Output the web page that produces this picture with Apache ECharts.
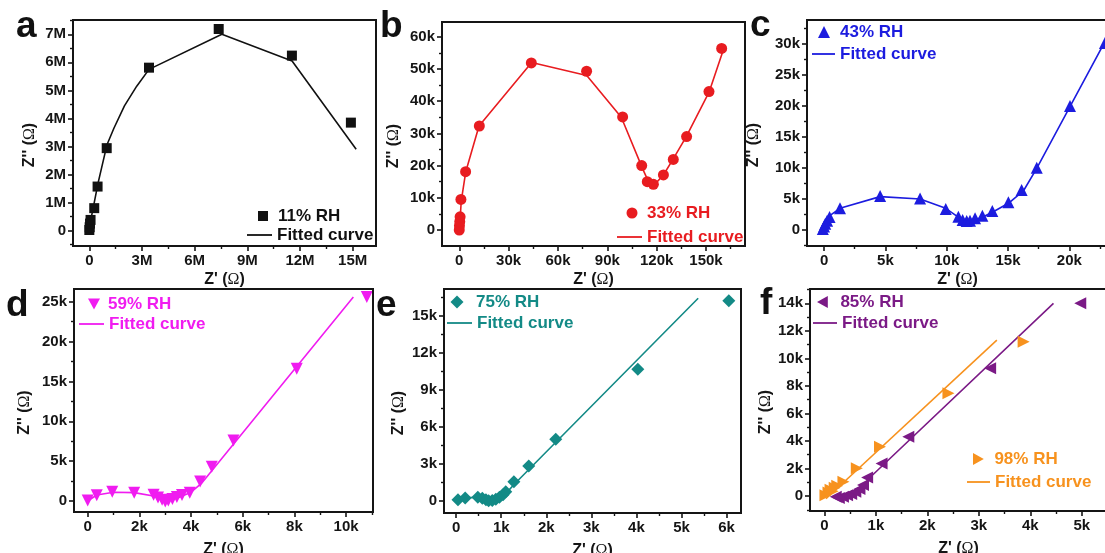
<!DOCTYPE html>
<html>
<head>
<meta charset="utf-8">
<script src="https://cdn.jsdelivr.net/npm/echarts@6/dist/echarts.min.js"></script>
<style>
  html, body { margin: 0; padding: 0; background: #fff; }
  #chart { width: 1105px; height: 553px; }
</style>
</head>
<body>
<div id="chart"></div>
<script>
// Complex impedance (Nyquist) plots of the sensor at six humidity levels.
// Z' is the real part, Z'' the imaginary part; values in MΩ (a) or kΩ (b–f).

// (a) 11% RH, MΩ
const rh11Re = [0.0, 0.02, 0.04, 0.07, 0.28, 0.47, 0.99, 3.40, 7.37, 11.54, 14.90];
const rh11Im = [0.02, 0.12, 0.25, 0.38, 0.80, 1.57, 2.94, 5.81, 7.19, 6.24, 3.85];
const rh11FitRe = [0.0, 0.12, 0.28, 0.5, 1.0, 1.4, 2.0, 2.7, 3.4, 7.55, 11.55, 15.2];
const rh11FitIm = [0.0, 0.5, 1.0, 1.7, 3.05, 3.65, 4.45, 5.15, 5.75, 7.0, 6.05, 2.9];

// (b) 33% RH, kΩ
const rh33Re = [0, 0.1, 0.3, 0.5, 1.0, 3.85, 12.2, 43.8, 77.4, 99.3, 110.9, 114.3, 118.0, 124.1, 130.1, 138.2, 151.8, 159.5];
const rh33Im = [0, 1.3, 2.6, 4.1, 9.5, 18.1, 32.3, 51.9, 49.3, 35.1, 20.0, 15.0, 14.2, 17.1, 21.9, 29.0, 43.0, 56.4];
const rh33FitRe = [0, 0.6, 1.2, 3.9, 12.0, 44.0, 77.5, 98.5, 111.5, 115, 118.5, 124, 130, 138, 152, 160.5];
const rh33FitIm = [0, 4, 9, 18, 32.3, 52, 48, 35, 19, 15, 14, 17, 22, 29, 43, 55.9];

// (c) 43% RH, kΩ
const rh43Re = [-0.1, 0.0, 0.1, 0.25, 0.45, 1.3, 4.57, 7.83, 9.92, 10.95, 11.30, 11.63, 11.90, 12.31, 12.91, 13.72, 15.03, 16.11, 17.34, 20.05, 22.9];
const rh43Im = [0.15, 0.55, 1.0, 1.5, 2.1, 3.5, 5.5, 5.1, 3.4, 2.15, 1.62, 1.45, 1.51, 1.88, 2.32, 3.07, 4.47, 6.46, 10.07, 20.03, 30.2];
const rh43FitRe = [-0.05, 0.35, 1.3, 4.57, 7.83, 9.92, 11.09, 11.9, 12.99, 13.8, 15.03, 16.25, 17.34, 20.05, 22.9];
const rh43FitIm = [0.1, 2.15, 3.5, 5.39, 5.0, 3.5, 1.88, 1.35, 2.15, 2.96, 4.31, 6.3, 9.96, 19.9, 30.4];

// (d) 59% RH, kΩ
const rh59Re = [0, 0.35, 0.95, 1.8, 2.55, 2.72, 2.88, 3.0, 3.12, 3.28, 3.45, 3.65, 3.95, 4.35, 4.8, 5.64, 8.09, 10.8];
const rh59Im = [0.05, 0.72, 1.15, 1.05, 0.78, 0.45, 0.15, -0.05, 0.05, 0.25, 0.5, 0.75, 1.05, 2.45, 4.3, 7.6, 16.6, 25.6];
const rh59FitRe = [0, 0.35, 1.0, 1.8, 2.6, 3.05, 3.5, 4.0, 4.4, 4.7, 10.28];
const rh59FitIm = [0, 0.75, 1.1, 1.05, 0.6, 0.05, 0.4, 1.1, 2.2, 3.4, 25.6];

// (e) 75% RH, kΩ
const rh75Re = [0.04, 0.2, 0.48, 0.58, 0.66, 0.72, 0.8, 0.88, 0.96, 1.04, 1.1, 1.28, 1.61, 2.21, 4.03, 6.05];
const rh75Im = [0.1, 0.25, 0.3, 0.22, 0.1, 0.02, 0.05, 0.15, 0.3, 0.5, 0.75, 1.56, 2.83, 5.0, 10.65, 16.2];
const rh75FitRe = [0.04, 0.2, 0.48, 0.7, 0.85, 1.0, 1.15, 1.3, 5.37];
const rh75FitIm = [0.1, 0.25, 0.3, 0.05, 0.1, 0.35, 0.8, 1.4, 16.4];

// (f) 85% and 98% RH, kΩ
const rh85Re = [0.22, 0.28, 0.36, 0.44, 0.52, 0.6, 0.68, 0.75, 0.83, 1.11, 1.63, 3.22, 4.97];
const rh85Im = [-0.05, -0.15, -0.05, 0.05, 0.15, 0.3, 0.5, 0.8, 1.35, 2.37, 4.31, 9.28, 14.0];
const rh85FitRe = [0.25, 0.45, 0.6, 0.75, 0.9, 4.45];
const rh85FitIm = [-0.2, -0.05, 0.3, 0.75, 1.4, 14.0];
const rh98Re = [0.02, 0.08, 0.12, 0.16, 0.2, 0.25, 0.37, 0.63, 1.08, 2.41, 3.87];
const rh98Im = [0.05, 0.25, 0.45, 0.35, 0.6, 0.75, 1.04, 2.01, 3.58, 7.46, 11.2];
const rh98FitRe = [0.03, 3.35];
const rh98FitIm = [-0.2, 11.33];

// Tick values per panel (axis units)
const ticksAx = [0, 3, 6, 9, 12, 15];
const ticksAy = [0, 1, 2, 3, 4, 5, 6, 7];
const ticksBx = [0, 30, 60, 90, 120, 150];
const ticksBy = [0, 10, 20, 30, 40, 50, 60];
const ticksCx = [0, 5, 10, 15, 20];
const ticksCy = [0, 5, 10, 15, 20, 25, 30];
const ticksDx = [0, 2, 4, 6, 8, 10];
const ticksDy = [0, 5, 10, 15, 20, 25];
const ticksEx = [0, 1, 2, 3, 4, 5, 6];
const ticksEy = [0, 3, 6, 9, 12, 15];
const ticksFx = [0, 1, 2, 3, 4, 5];
const ticksFy = [0, 2, 4, 6, 8, 10, 12, 14];

const FONT = "'Liberation Sans', Arial, sans-serif";
const INK = '#151515';
const LEG_FS = 17;

const zip = (xs, ys) => xs.map((x, i) => [x, ys[i]]);

// Marker outlines used in the legends (rotated triangles)
const ICON_DOWN = 'path://M0,0L10,0L5,9Z';
const ICON_LEFT = 'path://M9,0L0,5L9,10Z';
const ICON_RIGHT = 'path://M0,0L9,5L0,10Z';

// Panel layout: plot box [left, top, right, bottom] in px, axis ranges, styling.
// leg: [marker centre x, centre y, text x]; legFit: [line start x, centre y, line end x, text x]
const panels = [
  { letter: 'a', lx: 16, ly: 8, box: [73, 20, 376, 246], xr: [-0.93, 16.33], yr: [-0.55, 7.51],
    xt: ticksAx, yt: ticksAy, unit: 'M', xGap: 26, yGap: 35,
    sets: [
      { id: 'rh11', label: '11% RH', re: rh11Re, im: rh11Im, fre: rh11FitRe, fim: rh11FitIm, color: '#111111',
        symbol: 'rect', icon: 'rect', size: 10, rot: 0, leg: [263, 216, 278], legFit: [247, 235, 272, 276] }
    ] },
  { letter: 'b', lx: 380, ly: 8, box: [442, 22, 745, 246], xr: [-10.5, 173.7], yr: [-4.97, 64.6],
    xt: ticksBx, yt: ticksBy, unit: 'k', xGap: 26, yGap: 40,
    sets: [
      { id: 'rh33', label: '33% RH', re: rh33Re, im: rh33Im, fre: rh33FitRe, fim: rh33FitIm, color: '#e81c20',
        symbol: 'circle', icon: 'circle', size: 11, rot: 0, leg: [632, 213, 647], legFit: [617, 237, 642, 646] }
    ] },
  { letter: 'c', lx: 750, ly: 7, box: [807, 20, 1108, 246], xr: [-1.39, 23.15], yr: [-2.58, 33.9],
    xt: ticksCx, yt: ticksCy, unit: 'k', xGap: 26, yGap: 45,
    sets: [
      { id: 'rh43', label: '43% RH', re: rh43Re, im: rh43Im, fre: rh43FitRe, fim: rh43FitIm, color: '#1c1cdf',
        symbol: 'triangle', icon: 'triangle', size: 12, rot: 0, leg: [824, 32, 840], legFit: [812, 54, 835, 838] }
    ] },
  { letter: 'd', lx: 6, ly: 287, box: [74, 289, 373, 512], xr: [-0.53, 11.04], yr: [-1.38, 26.6],
    xt: ticksDx, yt: ticksDy, unit: 'k', xGap: 30, yGap: 41,
    sets: [
      { id: 'rh59', label: '59% RH', re: rh59Re, im: rh59Im, fre: rh59FitRe, fim: rh59FitIm, color: '#f01cf0',
        symbol: 'triangle', icon: ICON_DOWN, size: 12, rot: 180, leg: [94, 304, 108], legFit: [79, 324, 104, 107] }
    ] },
  { letter: 'e', lx: 376, ly: 287, box: [444, 289, 741, 513], xr: [-0.27, 6.32], yr: [-0.97, 17.15],
    xt: ticksEx, yt: ticksEy, unit: 'k', xGap: 30, yGap: 37,
    sets: [
      { id: 'rh75', label: '75% RH', re: rh75Re, im: rh75Im, fre: rh75FitRe, fim: rh75FitIm, color: '#138a86',
        symbol: 'diamond', icon: 'diamond', size: 13, rot: 0, leg: [457, 302, 476], legFit: [447, 323, 472, 477] }
    ] },
  { letter: 'f', lx: 760, ly: 285, box: [810, 289, 1107, 511], xr: [-0.28, 5.49], yr: [-1.09, 15.04],
    xt: ticksFx, yt: ticksFy, unit: 'k', xGap: 30, yGap: 32,
    sets: [
      { id: 'rh85', label: '85% RH', re: rh85Re, im: rh85Im, fre: rh85FitRe, fim: rh85FitIm, color: '#7b1a86',
        symbol: 'triangle', icon: ICON_LEFT, size: 12, rot: 90, leg: [823, 302, 841], legFit: [813, 323, 837, 841] },
      { id: 'rh98', label: '98% RH', re: rh98Re, im: rh98Im, fre: rh98FitRe, fim: rh98FitIm, color: '#f7921e',
        symbol: 'triangle', icon: ICON_RIGHT, size: 12, rot: -90, leg: [979, 459, 995], legFit: [967, 482, 990, 995] }
    ] }
];

// Half-step minor ticks between (and just outside) the labelled ones
function minorTicks(t, lo, hi) {
  const step = t[1] - t[0];
  const out = [];
  for (let v = t[0] - step / 2; v <= hi; v += step) if (v >= lo) out.push(+v.toFixed(6));
  return out;
}

const grids = [], xAxes = [], yAxes = [], series = [], legends = [], graphics = [];
const legendText = {};

panels.forEach((p, i) => {
  const [l, t, r, b] = p.box;
  const gMain = 2 * i, gMinor = 2 * i + 1;
  const geo = { left: l, top: t, width: r - l, height: b - t, containLabel: false, outerBoundsMode: 'none' };
  grids.push(Object.assign({ show: true, borderColor: INK, borderWidth: 2, backgroundColor: 'transparent', z: 4 }, geo));
  grids.push(Object.assign({ show: false }, geo));

  const fmt = v => (v === 0 ? '0' : v + p.unit);
  const nameRich = { o: { fontFamily: "'Liberation Serif', 'Times New Roman', serif", fontSize: 16, fontWeight: 'normal', color: INK } };
  const mainAxis = (idx, range, ticks, name, gap, pad) => ({
    gridIndex: idx, type: 'value', min: range[0], max: range[1],
    axisLine: { show: true, onZero: false, lineStyle: { color: INK, width: 2 } },
    axisTick: { show: true, customValues: ticks, length: 5, lineStyle: { color: INK, width: 1.6 } },
    axisLabel: { customValues: ticks, formatter: fmt, fontFamily: FONT, fontSize: 15, fontWeight: 'bold', color: INK, margin: 7 },
    splitLine: { show: false },
    name: name, nameLocation: 'middle', nameGap: gap,
    nameTextStyle: { fontFamily: FONT, fontSize: 16, fontWeight: 'bold', color: INK, rich: nameRich, padding: pad }
  });
  const minorAxis = (idx, range, ticks) => ({
    gridIndex: idx, type: 'value', min: range[0], max: range[1],
    axisLine: { show: false, onZero: false },
    axisTick: { show: true, customValues: minorTicks(ticks, range[0], range[1]), length: 3, lineStyle: { color: INK, width: 1.4 } },
    axisLabel: { show: false }, splitLine: { show: false }
  });

  xAxes.push(mainAxis(gMain, p.xr, p.xt, "Z' ({o|Ω})", p.xGap, [0, 0, 0, 0]));
  yAxes.push(mainAxis(gMain, p.yr, p.yt, "Z'' ({o|Ω})", p.yGap, [0, 24, 0, 0]));
  xAxes.push(minorAxis(gMinor, p.xr, p.xt));
  yAxes.push(minorAxis(gMinor, p.yr, p.yt));

  p.sets.forEach(s => {
    const fitId = s.id + '-fit';
    series.push({
      type: 'line', name: fitId, xAxisIndex: gMain, yAxisIndex: gMain,
      data: zip(s.fre, s.fim), symbol: 'none', showSymbol: false, smooth: false, z: 2,
      lineStyle: { color: s.color, width: 1.6 }, itemStyle: { color: s.color }
    });
    series.push({
      type: 'scatter', name: s.id, xAxisIndex: gMain, yAxisIndex: gMain,
      data: zip(s.re, s.im), symbol: s.symbol, symbolSize: s.size, symbolRotate: s.rot, z: 3,
      itemStyle: { color: s.color, opacity: 1 }
    });
    legendText[s.id] = s.label;
    legendText[fitId] = 'Fitted curve';

    const textStyle = padLeft => ({
      color: s.color, fontFamily: FONT, fontSize: LEG_FS, fontWeight: 'bold',
      lineHeight: LEG_FS, padding: [0, 0, 0, padLeft]
    });
    const base = { padding: 0, itemGap: 0, selectedMode: false, formatter: n => legendText[n] };

    // marker entry
    const [mx, my, mtx] = s.leg;
    legends.push(Object.assign({}, base, {
      data: [{ name: s.id, icon: s.icon, itemStyle: { color: s.color, opacity: 1 } }],
      left: mx - s.size / 2, top: my - LEG_FS / 2,
      itemWidth: s.size, itemHeight: s.size,
      textStyle: textStyle(Math.max(0, mtx - (mx + s.size / 2 + 5)))
    }));
    // fitted-curve entry: a thin bar stands for the line
    const [fx0, fy, fx1, ftx] = s.legFit;
    legends.push(Object.assign({}, base, {
      data: [{ name: fitId, icon: 'rect', itemStyle: { color: s.color } }],
      left: fx0, top: fy - LEG_FS / 2,
      itemWidth: fx1 - fx0, itemHeight: 1.8,
      textStyle: textStyle(Math.max(0, ftx - (fx1 + 5)))
    }));
  });

  graphics.push({
    type: 'text', left: p.lx, top: p.ly, z: 10,
    style: { text: p.letter, font: "bold 37px 'Liberation Sans', Arial, sans-serif", fill: '#111' }
  });
});

const chart = echarts.init(document.getElementById('chart'), null, { renderer: 'canvas' });
chart.setOption({
  animation: false,
  backgroundColor: '#ffffff',
  grid: grids,
  xAxis: xAxes,
  yAxis: yAxes,
  legend: legends,
  series: series,
  graphic: graphics
});
</script>
</body>
</html>
